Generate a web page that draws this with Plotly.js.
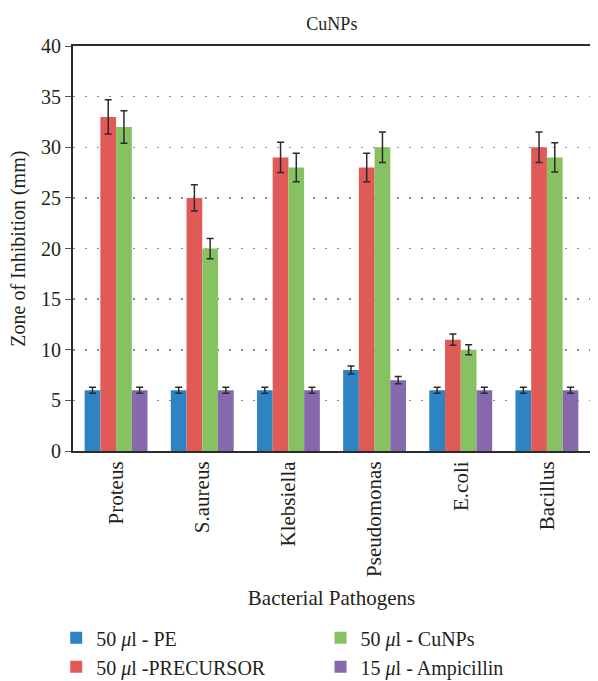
<!DOCTYPE html>
<html>
<head>
<meta charset="utf-8">
<script src="https://cdn.plot.ly/plotly-3.0.1.min.js"></script>
<style>html,body{margin:0;padding:0;background:#fff;}#chart{width:598px;height:681px;}</style>
</head>
<body>
<div id="chart"></div>
<script>
const categories = ["Proteus", "S.aureus", "Klebsiella", "Pseudomonas", "E.coli", "Bacillus"];
const seriesNames = ["50 <i>μ</i>l - PE", "50 <i>μ</i>l -PRECURSOR", "50 <i>μ</i>l - CuNPs", "15 <i>μ</i>l - Ampicillin"];
const pe = [6, 6, 6, 8, 6, 6];
const precursor = [33, 25, 29, 28, 11, 30];
const cunps = [32, 20, 28, 30, 10, 29];
const ampicillin = [6, 6, 6, 7, 6, 6];
const peErr = [0.3, 0.3, 0.3, 0.4, 0.3, 0.3];
const precursorErr = [1.7, 1.3, 1.5, 1.4, 0.55, 1.5];
const cunpsErr = [1.6, 1.0, 1.4, 1.5, 0.5, 1.45];
const ampicillinErr = [0.3, 0.3, 0.3, 0.35, 0.3, 0.3];
const colors = ["#2e83c3", "#e05a57", "#86c261", "#8669ac"];
const legendIds = ["legend", "legend", "legend2", "legend2"];
const yTitle = "Zone of Inhibition (mm)";

const values = [pe, precursor, cunps, ampicillin];
const errs = [peErr, precursorErr, cunpsErr, ampicillinErr];
const font = "Liberation Serif, Times New Roman, serif";

const traces = values.map((v, i) => ({
  type: "bar",
  name: seriesNames[i],
  x: categories,
  y: v,
  marker: {color: colors[i]},
  legend: legendIds[i],
  error_y: {type: "data", array: errs[i], visible: true, color: "#2b2b2b", thickness: 1.5, width: 3.5}
}));

const legendStyle = {
  orientation: "v",
  xref: "container", yref: "container",
  xanchor: "left",
  y: 0.092, yanchor: "top",
  font: {family: font, size: 20, color: "#231f20"},
  tracegroupgap: 0, itemwidth: 30, bgcolor: "rgba(0,0,0,0)"
};

const layout = {
  width: 598, height: 681,
  margin: {l: 73, r: 8, t: 46, b: 230, autoexpand: false},
  paper_bgcolor: "#fff", plot_bgcolor: "#fff",
  font: {family: font, size: 20, color: "#231f20"},
  title: {text: "CuNPs", x: 0.555, xanchor: "center", y: 0.965, yanchor: "middle", font: {family: font, size: 18, color: "#231f20"}},
  barmode: "group",
  bargap: 0.27,
  bargroupgap: 0,
  xaxis: {
    type: "category",
    showline: true, linecolor: "#2b2b2b", linewidth: 2, mirror: true,
    ticks: "", tickangle: -90,
    tickfont: {family: font, size: 21},
    title: {text: "Bacterial Pathogens", font: {family: font, size: 21}, standoff: 14},
    showgrid: false, automargin: true
  },
  yaxis: {
    range: [0, 40], dtick: 5,
    showline: true, linecolor: "#2b2b2b", linewidth: 2,
    ticks: "outside", ticklen: 6, tickcolor: "#555", tickwidth: 1,
    tickfont: {family: font, size: 20},
    showgrid: true, gridcolor: "#8a8a8a", griddash: "1.5px,10.5px", gridwidth: 1.5,
    zeroline: false, automargin: false
  },
  annotations: [{
    text: yTitle, textangle: -90, showarrow: false,
    xref: "paper", yref: "paper", x: -0.106, y: 0.5,
    xanchor: "center", yanchor: "middle",
    font: {family: font, size: 20, color: "#231f20"}
  }],
  showlegend: true,
  legend: Object.assign({}, legendStyle, {x: 0.094}),
  legend2: Object.assign({}, legendStyle, {x: 0.536})
};

Plotly.newPlot("chart", traces, layout, {displayModeBar: false, staticPlot: true});
</script>
</body>
</html>
